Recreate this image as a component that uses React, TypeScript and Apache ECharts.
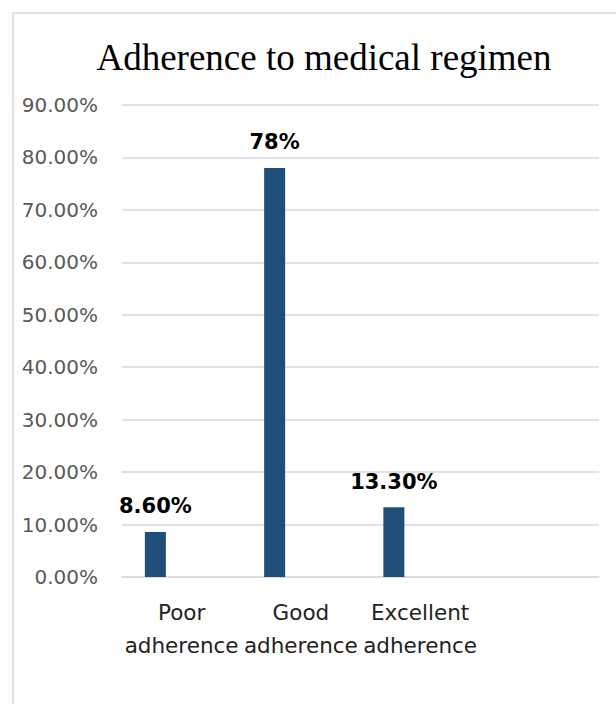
import React, { useEffect, useRef } from "react";
import * as echarts from "echarts";

const title = "Adherence to medical regimen";
const categories = ["Poor\nadherence", "Good\nadherence", "Excellent\nadherence", ""];
const values = [0.086, 0.78, 0.133, null];
const valueLabels = ["8.60%", "78%", "13.30%", ""];
const emptySeries = [null, null, null, null];

export default function App() {
  const ref = useRef<HTMLDivElement>(null);
  useEffect(() => {
    if (!ref.current) return;
    const chart = echarts.init(ref.current, undefined, { renderer: "svg" });
    chart.setOption({
      animation: false,
      backgroundColor: "#ffffff",
      title: {
        text: title,
        left: 319,
        textAlign: "center",
        top: 34,
        textStyle: {
          fontFamily: "Liberation Serif",
          fontSize: 37,
          fontWeight: "normal",
          color: "#000000",
        },
      },
      graphic: [
        {
          type: "rect",
          shape: { x: 13, y: 13, width: 700, height: 800 },
          style: { fill: "none", stroke: "#d9d9d9", lineWidth: 1.5 },
          silent: true,
        },
      ],
      grid: { left: 122, right: 17, top: 105, bottom: 127, containLabel: false },
      xAxis: {
        type: "category",
        data: categories,
        axisTick: { show: false },
        axisLine: { show: true, lineStyle: { color: "#d9d9d9", width: 1.5 } },
        axisLabel: {
          interval: 0,
          margin: 19,
          fontFamily: "DejaVu Sans",
          fontSize: 21.5,
          lineHeight: 33,
          color: "#222222",
        },
      },
      yAxis: {
        type: "value",
        min: 0,
        max: 0.9,
        interval: 0.1,
        axisLine: { show: false },
        axisTick: { show: false },
        splitLine: { lineStyle: { color: "#d9d9d9", width: 1.5 } },
        axisLabel: {
          margin: 24,
          fontFamily: "DejaVu Sans",
          fontSize: 20,
          color: "#595959",
          formatter: (v: number) => (v * 100).toFixed(2) + "%",
        },
      },
      series: [
        {
          type: "bar",
          data: values,
          barWidth: 21,
          barGap: "150%",
          itemStyle: { color: "#1f4e79" },
          label: {
            show: true,
            position: "top",
            distance: 15,
            fontFamily: "DejaVu Sans",
            fontWeight: "bold",
            fontSize: 21,
            color: "#000000",
            formatter: (p: any) => valueLabels[p.dataIndex],
          },
        },
        {
          type: "bar",
          data: emptySeries,
          barWidth: 21,
          itemStyle: { color: "#2e75b6" },
        },
      ],
    });
    return () => chart.dispose();
  }, []);
  return (
    <div
      ref={ref}
      style={{ position: "absolute", left: 0, top: 0, width: 616, height: 704 }}
    />
  );
}
